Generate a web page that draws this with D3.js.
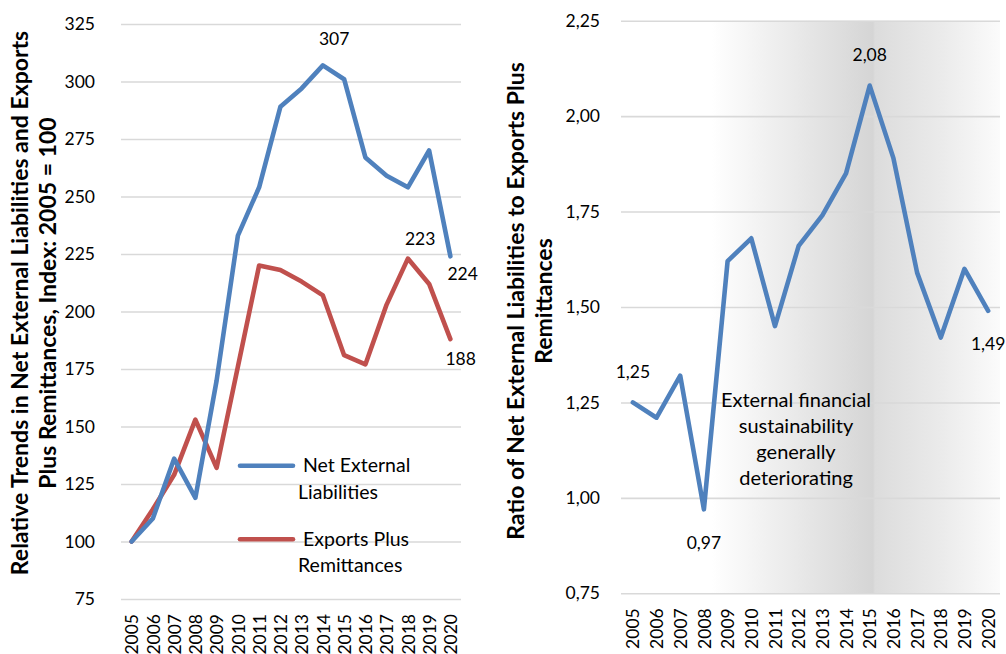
<!DOCTYPE html>
<html>
<head>
<meta charset="utf-8">
<script src="https://cdn.jsdelivr.net/npm/d3@7"></script>
<style>
  html, body { margin: 0; padding: 0; background: #fff; }
  svg { display: block; font-family: Lato, "Open Sans", sans-serif; }
</style>
</head>
<body>
<svg id="chart" width="1006" height="654"></svg>
<script>
// Years on the horizontal axis of both panels
const years = ["2005","2006","2007","2008","2009","2010","2011","2012","2013","2014","2015","2016","2017","2018","2019","2020"];

// Left panel: index values, 2005 = 100
const netLiabilities = [100, 110, 136, 119, 170, 233, 254, 289, 297, 307, 301, 267, 259, 254, 270, 224];
const exportsRemit   = [100, 114, 129, 153, 132, 176, 220, 218, 213, 207, 181, 177, 203, 223, 212, 188];
const leftTicks = [75, 100, 125, 150, 175, 200, 225, 250, 275, 300, 325];

// Right panel: ratio of net external liabilities to exports plus remittances
const ratio = [1.25, 1.21, 1.32, 0.97, 1.62, 1.68, 1.45, 1.66, 1.74, 1.85, 2.08, 1.89, 1.59, 1.42, 1.60, 1.49];
const rightTicks = [0.75, 1.00, 1.25, 1.50, 1.75, 2.00, 2.25];

const seriesNames = ["Net External Liabilities", "Exports Plus Remittances"];
const annotationLines = ["External financial", "sustainability", "generally", "deteriorating"];

const BLUE = "#4f81bd", RED = "#c0504d", GRID = "#d9d9d9";
const FS_NUM = 17.5;   // numbers (ticks, data labels)
const FS_TXT = 19.5;   // words (legend, annotation)
const FS_TITLE = 23;   // axis titles

const locale = d3.formatLocale({ decimal: ",", thousands: ".", grouping: [3], currency: ["", ""] });
const fmt2 = locale.format(".2f");
const fmt0 = locale.format(".0f");

const svg = d3.select("#chart");

// ---------- Left panel ----------
const L = { left: 121, right: 461, top: 24, bottom: 599 };
const xL = d3.scalePoint().domain(years).range([L.left, L.right]).padding(0.5);
const yL = d3.scaleLinear().domain([75, 325]).range([L.bottom, L.top]);

const gL = svg.append("g");

gL.append("g")
  .attr("transform", `translate(${L.left},0)`)
  .call(d3.axisLeft(yL).tickValues(leftTicks).tickSize(-(L.right - L.left)).tickPadding(26).tickFormat(fmt0))
  .call(g => g.select(".domain").remove())
  .call(g => g.selectAll(".tick line").attr("stroke", GRID).attr("stroke-width", 1.6))
  .call(g => g.selectAll(".tick text").attr("font-size", FS_NUM).attr("fill", "#000").attr("font-family", "Lato, sans-serif"));

gL.append("g")
  .attr("transform", `translate(0,${L.bottom})`)
  .call(d3.axisBottom(xL).tickSize(0).tickPadding(0))
  .call(g => g.select(".domain").remove())
  .call(g => g.selectAll(".tick text")
    .attr("font-size", FS_NUM).attr("fill", "#000").attr("font-family", "Lato, sans-serif")
    .attr("transform", "rotate(-90)")
    .attr("text-anchor", "end")
    .attr("x", -15).attr("y", 0).attr("dy", "0.35em"));

const lineL = (vals) => d3.line().x((d, i) => xL(years[i])).y(d => yL(d))(vals);

gL.append("path").attr("d", lineL(exportsRemit))
  .attr("fill", "none").attr("stroke", RED).attr("stroke-width", 4.6)
  .attr("stroke-linejoin", "round").attr("stroke-linecap", "round");
gL.append("path").attr("d", lineL(netLiabilities))
  .attr("fill", "none").attr("stroke", BLUE).attr("stroke-width", 4.6)
  .attr("stroke-linejoin", "round").attr("stroke-linecap", "round");

// Data labels on the left panel
const leftLabels = [
  { series: netLiabilities, year: "2014", dx: -4, dy: -20 },
  { series: netLiabilities, year: "2020", dx: -3, dy: 24 },
  { series: exportsRemit, year: "2018", dx: -3, dy: -14 },
  { series: exportsRemit, year: "2020", dx: -5, dy: 26 }
];
gL.selectAll("text.dlabel").data(leftLabels).join("text")
  .attr("class", "dlabel")
  .attr("x", d => xL(d.year) + d.dx)
  .attr("y", d => yL(d.series[years.indexOf(d.year)]) + d.dy)
  .attr("font-size", FS_NUM).attr("fill", "#000")
  .text(d => fmt0(d.series[years.indexOf(d.year)]));

// Legend
const legend = [
  { color: BLUE, lines: ["Net External", "Liabilities"], y: 465.7 },
  { color: RED, lines: ["Exports Plus", "Remittances"], y: 539.3 }
];
legend.forEach(d => {
  gL.append("line").attr("x1", 240).attr("x2", 293).attr("y1", d.y).attr("y2", d.y)
    .attr("stroke", d.color).attr("stroke-width", 4.6).attr("stroke-linecap", "round");
  gL.append("text").attr("x", 303).attr("y", d.y + 6.5).attr("font-size", FS_TXT).attr("fill", "#000").text(d.lines[0]);
  gL.append("text").attr("x", 298).attr("y", d.y + 33).attr("font-size", FS_TXT).attr("fill", "#000").text(d.lines[1]);
});

// Left axis title
const titleL = gL.append("text")
  .attr("transform", "translate(0,303) rotate(-90)")
  .attr("text-anchor", "middle").attr("font-weight", "bold").attr("font-size", FS_TITLE).attr("fill", "#000");
titleL.append("tspan").attr("x", 0).attr("y", 28).text("Relative Trends in Net External Liabilities and Exports");
titleL.append("tspan").attr("x", 0).attr("y", 56).text("Plus Remittances, Index: 2005 = 100");

// ---------- Right panel ----------
const R = { left: 621, right: 1000, top: 20.7, bottom: 593.3 };
const xR = d3.scalePoint().domain(years).range([R.left, R.right]).padding(0.5);
const yR = d3.scaleLinear().domain([0.75, 2.25]).range([R.bottom, R.top]);

const defs = svg.append("defs");
const grad = defs.append("linearGradient").attr("id", "shade").attr("x1", 0).attr("x2", 1).attr("y1", 0).attr("y2", 0);
[[0, "#ffffff"], [0.24, "#ffffff"], [0.665, "#d5d5d5"], [0.67, "#dcdcdc"], [0.85, "#ebebeb"], [1, "#fbfbfb"]]
  .forEach(([o, c]) => grad.append("stop").attr("offset", o).attr("stop-color", c));

const gR = svg.append("g");
gR.append("rect").attr("x", R.left).attr("y", R.top).attr("width", R.right - R.left).attr("height", R.bottom - R.top)
  .attr("fill", "url(#shade)");

gR.append("g")
  .attr("transform", `translate(${R.left},0)`)
  .call(d3.axisLeft(yR).tickValues(rightTicks).tickSize(-(R.right - R.left)).tickPadding(21).tickFormat(fmt2))
  .call(g => g.select(".domain").remove())
  .call(g => g.selectAll(".tick line").attr("stroke", GRID).attr("stroke-width", 1.6))
  .call(g => g.selectAll(".tick text").attr("font-size", FS_NUM).attr("fill", "#000").attr("font-family", "Lato, sans-serif"));

gR.append("g")
  .attr("transform", `translate(0,${R.bottom})`)
  .call(d3.axisBottom(xR).tickSize(0).tickPadding(0))
  .call(g => g.select(".domain").remove())
  .call(g => g.selectAll(".tick text")
    .attr("font-size", FS_NUM).attr("fill", "#000").attr("font-family", "Lato, sans-serif")
    .attr("transform", "rotate(-90)")
    .attr("text-anchor", "end")
    .attr("x", -15).attr("y", 0).attr("dy", "0.35em"));

const lineR = d3.line().x((d, i) => xR(years[i])).y(d => yR(d));
gR.append("path").attr("d", lineR(ratio))
  .attr("fill", "none").attr("stroke", BLUE).attr("stroke-width", 4.6)
  .attr("stroke-linejoin", "round").attr("stroke-linecap", "round");

const rightLabels = [
  { year: "2005", dy: -24 },
  { year: "2008", dy: 40 },
  { year: "2015", dy: -25 },
  { year: "2020", dy: 39 }
];
gR.selectAll("text.dlabel").data(rightLabels).join("text")
  .attr("class", "dlabel")
  .attr("x", d => xR(d.year))
  .attr("y", d => yR(ratio[years.indexOf(d.year)]) + d.dy)
  .attr("text-anchor", "middle")
  .attr("font-size", FS_NUM).attr("fill", "#000")
  .text(d => fmt2(ratio[years.indexOf(d.year)]));

// Annotation over the shaded area
gR.append("text").attr("text-anchor", "middle").attr("font-size", 20).attr("fill", "#000")
  .selectAll("tspan").data(annotationLines).join("tspan")
  .attr("x", 796).attr("y", (d, i) => 407 + i * 26).text(d => d);

// Right axis title
const titleR = gR.append("text")
  .attr("transform", "translate(0,301) rotate(-90)")
  .attr("text-anchor", "middle").attr("font-weight", "bold").attr("font-size", FS_TITLE).attr("fill", "#000");
titleR.append("tspan").attr("x", 0).attr("y", 523.5).text("Ratio of Net External Liabilities to Exports Plus");
titleR.append("tspan").attr("x", 0).attr("y", 552).text("Remittances");
</script>
</body>
</html>
